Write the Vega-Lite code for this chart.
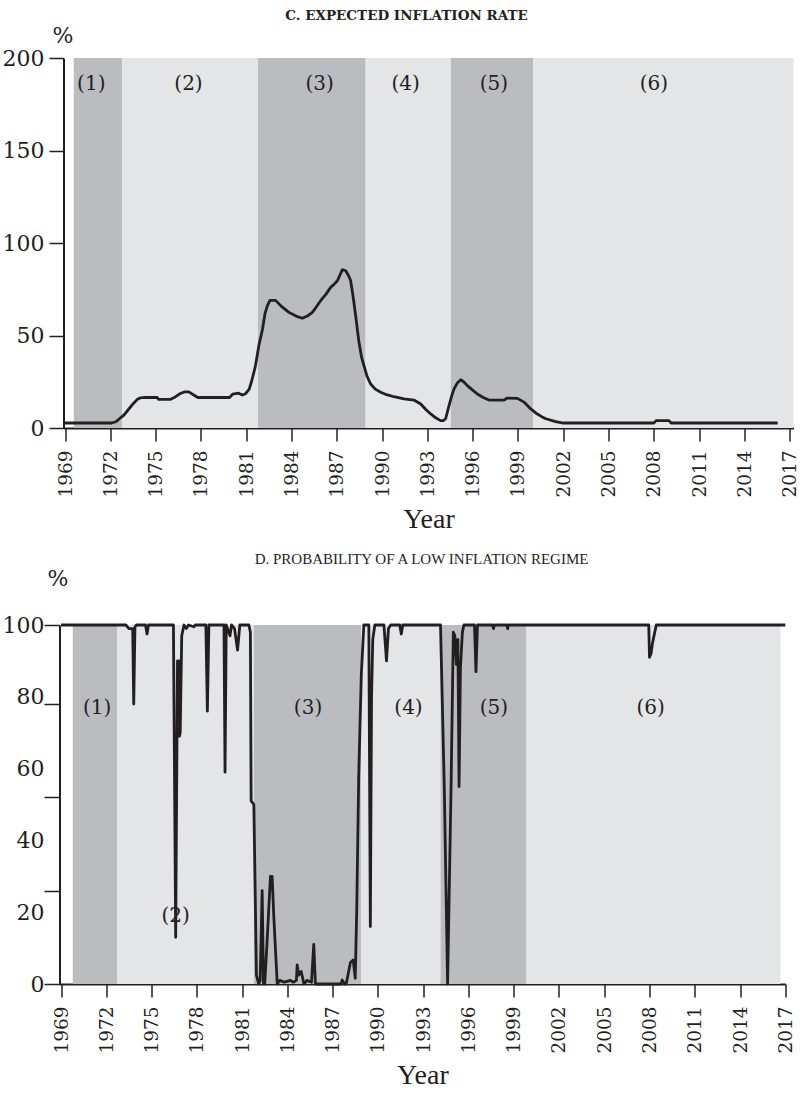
{
  "$schema": "https://vega.github.io/schema/vega-lite/v6.json",
  "background": "white",
  "padding": {"left": 1.5, "top": 8, "right": 0, "bottom": 0},
  "spacing": 18,
  "config": {
    "view": {"stroke": null},
    "axis": {"grid": false, "domainColor": "#231f20", "tickColor": "#231f20", "labelColor": "#231f20", "titleColor": "#231f20", "domainWidth": 2, "tickWidth": 1.5, "labelFont": "DejaVu Serif", "titleFont": "DejaVu Serif", "titleFontWeight": "normal", "labelOverlap": false, "labelFlush": false},
    "title": {"color": "#231f20"}
  },
  "datasets": {
    "bandsC": [
      {"start": 1969.58, "end": 1972.79, "shade": "dark"},
      {"start": 1972.79, "end": 1981.78, "shade": "light"},
      {"start": 1981.78, "end": 1988.91, "shade": "dark"},
      {"start": 1988.91, "end": 1994.55, "shade": "light"},
      {"start": 1994.55, "end": 2000.0, "shade": "dark"},
      {"start": 2000.0, "end": 2017.25, "shade": "light"}
    ],
    "bandsD": [
      {"start": 1969.78, "end": 1972.72, "shade": "dark"},
      {"start": 1972.72, "end": 1981.78, "shade": "light"},
      {"start": 1981.78, "end": 1988.89, "shade": "dark"},
      {"start": 1988.89, "end": 1994.15, "shade": "light"},
      {"start": 1994.15, "end": 1999.85, "shade": "dark"},
      {"start": 1999.85, "end": 2016.68, "shade": "light"}
    ],
    "labelsC": [
      {"year": 1970.74, "value": 186, "label": "(1)"},
      {"year": 1977.18, "value": 186, "label": "(2)"},
      {"year": 1985.86, "value": 186, "label": "(3)"},
      {"year": 1991.56, "value": 186, "label": "(4)"},
      {"year": 1997.4, "value": 186, "label": "(5)"},
      {"year": 2008.0, "value": 186, "label": "(6)"}
    ],
    "labelsD": [
      {"year": 1971.4, "value": 77, "label": "(1)"},
      {"year": 1976.6, "value": 19, "label": "(2)"},
      {"year": 1985.37, "value": 77, "label": "(3)"},
      {"year": 1992.03, "value": 77, "label": "(4)"},
      {"year": 1997.69, "value": 77, "label": "(5)"},
      {"year": 2008.07, "value": 77, "label": "(6)"}
    ],
    "lineC": [
      {"year": 1969.0, "value": 2.7}, {"year": 1972.1, "value": 2.7}, {"year": 1972.4, "value": 3.5},
      {"year": 1972.6, "value": 5}, {"year": 1972.9, "value": 7}, {"year": 1973.2, "value": 10},
      {"year": 1973.5, "value": 13}, {"year": 1973.8, "value": 15.5}, {"year": 1974.0, "value": 16.3},
      {"year": 1974.3, "value": 16.5}, {"year": 1975.1, "value": 16.5}, {"year": 1975.2, "value": 15.5},
      {"year": 1976.0, "value": 15.5}, {"year": 1976.3, "value": 16.8}, {"year": 1976.6, "value": 18.5},
      {"year": 1976.9, "value": 19.5}, {"year": 1977.2, "value": 19.5}, {"year": 1977.5, "value": 18},
      {"year": 1977.8, "value": 16.5}, {"year": 1979.9, "value": 16.5}, {"year": 1980.1, "value": 18.3},
      {"year": 1980.5, "value": 18.8}, {"year": 1980.75, "value": 17.8}, {"year": 1980.95, "value": 18.5},
      {"year": 1981.2, "value": 21}, {"year": 1981.35, "value": 25}, {"year": 1981.6, "value": 33},
      {"year": 1981.85, "value": 45}, {"year": 1982.07, "value": 53}, {"year": 1982.25, "value": 62},
      {"year": 1982.4, "value": 66}, {"year": 1982.57, "value": 69}, {"year": 1982.95, "value": 69},
      {"year": 1983.3, "value": 66}, {"year": 1983.83, "value": 62.5}, {"year": 1984.3, "value": 60.5},
      {"year": 1984.72, "value": 59.3}, {"year": 1985.05, "value": 60.5}, {"year": 1985.38, "value": 62.5},
      {"year": 1985.65, "value": 65.5}, {"year": 1985.93, "value": 68.8}, {"year": 1986.3, "value": 72.5},
      {"year": 1986.59, "value": 76}, {"year": 1986.8, "value": 77.5}, {"year": 1987.04, "value": 79.6},
      {"year": 1987.2, "value": 82.5}, {"year": 1987.37, "value": 85.6}, {"year": 1987.59, "value": 85},
      {"year": 1987.8, "value": 82}, {"year": 1987.92, "value": 79.6}, {"year": 1988.1, "value": 70},
      {"year": 1988.25, "value": 60.7}, {"year": 1988.47, "value": 46.3}, {"year": 1988.65, "value": 38},
      {"year": 1988.8, "value": 33.7}, {"year": 1989.0, "value": 28}, {"year": 1989.24, "value": 23.8},
      {"year": 1989.55, "value": 21}, {"year": 1989.91, "value": 19.3}, {"year": 1990.3, "value": 18},
      {"year": 1990.79, "value": 16.9}, {"year": 1991.45, "value": 15.7}, {"year": 1992.11, "value": 15.1},
      {"year": 1992.56, "value": 13}, {"year": 1992.9, "value": 10}, {"year": 1993.22, "value": 7.6},
      {"year": 1993.55, "value": 5.5}, {"year": 1993.88, "value": 4}, {"year": 1994.05, "value": 4},
      {"year": 1994.21, "value": 5}, {"year": 1994.43, "value": 12}, {"year": 1994.6, "value": 17},
      {"year": 1994.76, "value": 21}, {"year": 1995.0, "value": 24.5}, {"year": 1995.21, "value": 26.1},
      {"year": 1995.4, "value": 25}, {"year": 1995.65, "value": 22.9}, {"year": 1996.0, "value": 20.5},
      {"year": 1996.31, "value": 18.4}, {"year": 1996.7, "value": 16.5}, {"year": 1997.08, "value": 15.1},
      {"year": 1998.08, "value": 15.1}, {"year": 1998.3, "value": 16.2}, {"year": 1998.97, "value": 16},
      {"year": 1999.4, "value": 14}, {"year": 1999.85, "value": 10.3}, {"year": 2000.2, "value": 8},
      {"year": 2000.6, "value": 6}, {"year": 2000.85, "value": 5}, {"year": 2001.5, "value": 3.4},
      {"year": 2002.0, "value": 2.7}, {"year": 2008.0, "value": 2.7}, {"year": 2008.15, "value": 4},
      {"year": 2009.0, "value": 4}, {"year": 2009.15, "value": 2.7}, {"year": 2016.2, "value": 2.7}
    ],
    "lineD": [
      {"year": 1969.0, "value": 100}, {"year": 1973.3, "value": 100}, {"year": 1973.5, "value": 99},
      {"year": 1973.75, "value": 99}, {"year": 1973.82, "value": 78}, {"year": 1973.9, "value": 99.5},
      {"year": 1974.0, "value": 100}, {"year": 1974.6, "value": 100}, {"year": 1974.7, "value": 97.5},
      {"year": 1974.8, "value": 100}, {"year": 1976.45, "value": 100}, {"year": 1976.6, "value": 13},
      {"year": 1976.72, "value": 90}, {"year": 1976.8, "value": 90}, {"year": 1976.85, "value": 69},
      {"year": 1976.9, "value": 70}, {"year": 1977.0, "value": 97}, {"year": 1977.15, "value": 100},
      {"year": 1977.3, "value": 99}, {"year": 1977.45, "value": 100}, {"year": 1977.8, "value": 99.5},
      {"year": 1977.9, "value": 100}, {"year": 1978.6, "value": 100}, {"year": 1978.7, "value": 76},
      {"year": 1978.8, "value": 100}, {"year": 1979.8, "value": 100}, {"year": 1979.87, "value": 59},
      {"year": 1979.95, "value": 100}, {"year": 1980.2, "value": 97}, {"year": 1980.3, "value": 100},
      {"year": 1980.5, "value": 99}, {"year": 1980.7, "value": 93}, {"year": 1980.85, "value": 100},
      {"year": 1981.45, "value": 100}, {"year": 1981.55, "value": 98}, {"year": 1981.6, "value": 51},
      {"year": 1981.78, "value": 50}, {"year": 1981.95, "value": 2.5}, {"year": 1982.1, "value": 0},
      {"year": 1982.2, "value": 1}, {"year": 1982.33, "value": 26}, {"year": 1982.42, "value": 0},
      {"year": 1982.5, "value": 0}, {"year": 1982.66, "value": 12}, {"year": 1982.88, "value": 30},
      {"year": 1982.99, "value": 30}, {"year": 1983.1, "value": 19}, {"year": 1983.33, "value": 0},
      {"year": 1983.5, "value": 1}, {"year": 1983.8, "value": 0.5}, {"year": 1984.2, "value": 1},
      {"year": 1984.4, "value": 0.5}, {"year": 1984.6, "value": 1}, {"year": 1984.65, "value": 5.3},
      {"year": 1984.76, "value": 2.5}, {"year": 1984.92, "value": 3.5}, {"year": 1985.1, "value": 0},
      {"year": 1985.3, "value": 1}, {"year": 1985.6, "value": 0.5}, {"year": 1985.75, "value": 11},
      {"year": 1985.86, "value": 0}, {"year": 1987.55, "value": 0}, {"year": 1987.63, "value": 1.1},
      {"year": 1987.8, "value": 0}, {"year": 1987.9, "value": 0}, {"year": 1988.18, "value": 6},
      {"year": 1988.36, "value": 6.7}, {"year": 1988.5, "value": 1.6}, {"year": 1988.6, "value": 21},
      {"year": 1988.73, "value": 58}, {"year": 1988.9, "value": 86}, {"year": 1989.07, "value": 100},
      {"year": 1989.4, "value": 100}, {"year": 1989.5, "value": 16}, {"year": 1989.58, "value": 80},
      {"year": 1989.66, "value": 96}, {"year": 1989.8, "value": 100}, {"year": 1990.4, "value": 100},
      {"year": 1990.57, "value": 90}, {"year": 1990.7, "value": 99}, {"year": 1990.85, "value": 100},
      {"year": 1991.45, "value": 100}, {"year": 1991.55, "value": 97.5}, {"year": 1991.65, "value": 100},
      {"year": 1994.15, "value": 100}, {"year": 1994.4, "value": 55}, {"year": 1994.62, "value": 0},
      {"year": 1994.85, "value": 55}, {"year": 1995.0, "value": 98}, {"year": 1995.1, "value": 97},
      {"year": 1995.2, "value": 89}, {"year": 1995.3, "value": 96}, {"year": 1995.38, "value": 55},
      {"year": 1995.47, "value": 88}, {"year": 1995.6, "value": 98}, {"year": 1995.7, "value": 100},
      {"year": 1996.4, "value": 100}, {"year": 1996.5, "value": 87}, {"year": 1996.6, "value": 100},
      {"year": 1997.6, "value": 100}, {"year": 1997.66, "value": 99}, {"year": 1997.72, "value": 100},
      {"year": 1998.55, "value": 100}, {"year": 1998.6, "value": 99}, {"year": 1998.65, "value": 100},
      {"year": 2007.95, "value": 100}, {"year": 2008.0, "value": 91}, {"year": 2008.1, "value": 92},
      {"year": 2008.2, "value": 95}, {"year": 2008.3, "value": 97}, {"year": 2008.45, "value": 100},
      {"year": 2017.0, "value": 100}
    ]
  },
  "vconcat": [
    {
      "width": 730,
      "height": 370,
      "title": {"text": "C. EXPECTED INFLATION RATE", "font": "DejaVu Serif", "fontSize": 13.5, "fontWeight": "bold", "dx": -22, "offset": 2},
      "layer": [
        {
          "data": {"name": "bandsC"},
          "mark": {"type": "rect", "strokeWidth": 0},
          "encoding": {
            "x": {"field": "start", "type": "quantitative", "title": "Year", "scale": {"domain": [1968.9, 2017.25], "nice": false, "zero": false}},
            "x2": {"field": "end"},
            "color": {"field": "shade", "type": "nominal", "scale": {"domain": ["dark", "light"], "range": ["#bbbcbf", "#e4e5e7"]}, "legend": null}
          }
        },
        {
          "data": {"name": "lineC"},
          "mark": {"type": "line", "color": "#231f20", "strokeWidth": 2.8, "strokeJoin": "round"},
          "encoding": {
            "x": {"field": "year", "type": "quantitative", "title": "Year", "scale": {"domain": [1968.9, 2017.25], "nice": false, "zero": false},
              "axis": {"titleFont": "Liberation Serif", "titleFontSize": 28, "titlePadding": 8, "values": [1969, 1972, 1975, 1978, 1981, 1984, 1987, 1990, 1993, 1996, 1999, 2002, 2005, 2008, 2011, 2014, 2017], "format": "d", "labelAngle": 270, "labelFontSize": 18.5, "tickSize": 13, "labelPadding": 9}},
            "y": {"field": "value", "type": "quantitative", "title": "%", "scale": {"domain": [0, 200], "nice": false},
              "axis": {"titleAngle": 0, "titleAlign": "center", "titleBaseline": "middle", "titleX": -1, "titleY": -23, "titleFontSize": 22, "values": [0, 50, 100, 150, 200], "labelFontSize": 22, "labelPadding": 5, "tickSize": 14.5}}
          }
        },
        {
          "data": {"name": "labelsC"},
          "mark": {"type": "text", "font": "DejaVu Serif", "fontSize": 20, "color": "#231f20"},
          "encoding": {
            "x": {"field": "year", "type": "quantitative", "title": "Year"},
            "y": {"field": "value", "type": "quantitative", "title": "%"},
            "text": {"field": "label"}
          }
        }
      ]
    },
    {
      "width": 722,
      "height": 359,
      "title": {"text": "D. PROBABILITY OF A LOW INFLATION REGIME", "font": "Liberation Serif", "fontSize": 15, "fontWeight": "normal", "dx": -3, "offset": 0},
      "layer": [
        {
          "data": {"name": "bandsD"},
          "mark": {"type": "rect", "strokeWidth": 0},
          "encoding": {
            "x": {"field": "start", "type": "quantitative", "title": "Year", "scale": {"domain": [1968.9, 2017.0], "range": [-4, 721.8], "nice": false, "zero": false}},
            "x2": {"field": "end"},
            "color": {"field": "shade", "type": "nominal", "scale": {"domain": ["dark", "light"], "range": ["#bbbcbf", "#e4e5e7"]}, "legend": null}
          }
        },
        {
          "data": {"name": "lineD"},
          "mark": {"type": "line", "color": "#231f20", "strokeWidth": 2.8, "strokeJoin": "round"},
          "encoding": {
            "x": {"field": "year", "type": "quantitative", "title": "Year", "scale": {"domain": [1968.9, 2017.0], "range": [-4, 721.8], "nice": false, "zero": false},
              "axis": {"titleFont": "Liberation Serif", "titleFontSize": 28, "titlePadding": 8, "values": [1969, 1972, 1975, 1978, 1981, 1984, 1987, 1990, 1993, 1996, 1999, 2002, 2005, 2008, 2011, 2014, 2017], "format": "d", "labelAngle": 270, "labelFontSize": 18.5, "tickSize": 13, "labelPadding": 9}},
            "y": {"field": "value", "type": "quantitative", "title": "%", "scale": {"domain": [0, 100], "nice": false},
              "axis": {"offset": 4, "titleAngle": 0, "titleAlign": "center", "titleBaseline": "middle", "titleX": -2, "titleY": -47, "titleFontSize": 22, "values": [0, 20, 26, 40, 52, 60, 78, 80, 100],
                "labelExpr": "indexof([0,20,40,60,80,100], datum.value) >= 0 ? datum.label : ''",
                "tickOpacity": {"condition": {"test": "indexof([0,26,52,78,100], datum.value) >= 0", "value": 1}, "value": 0},
                "labelFontSize": 22, "labelPadding": 0, "tickSize": 15.5}}
          }
        },
        {
          "data": {"name": "labelsD"},
          "mark": {"type": "text", "font": "DejaVu Serif", "fontSize": 20, "color": "#231f20"},
          "encoding": {
            "x": {"field": "year", "type": "quantitative", "title": "Year"},
            "y": {"field": "value", "type": "quantitative", "title": "%"},
            "text": {"field": "label"}
          }
        }
      ]
    }
  ]
}
